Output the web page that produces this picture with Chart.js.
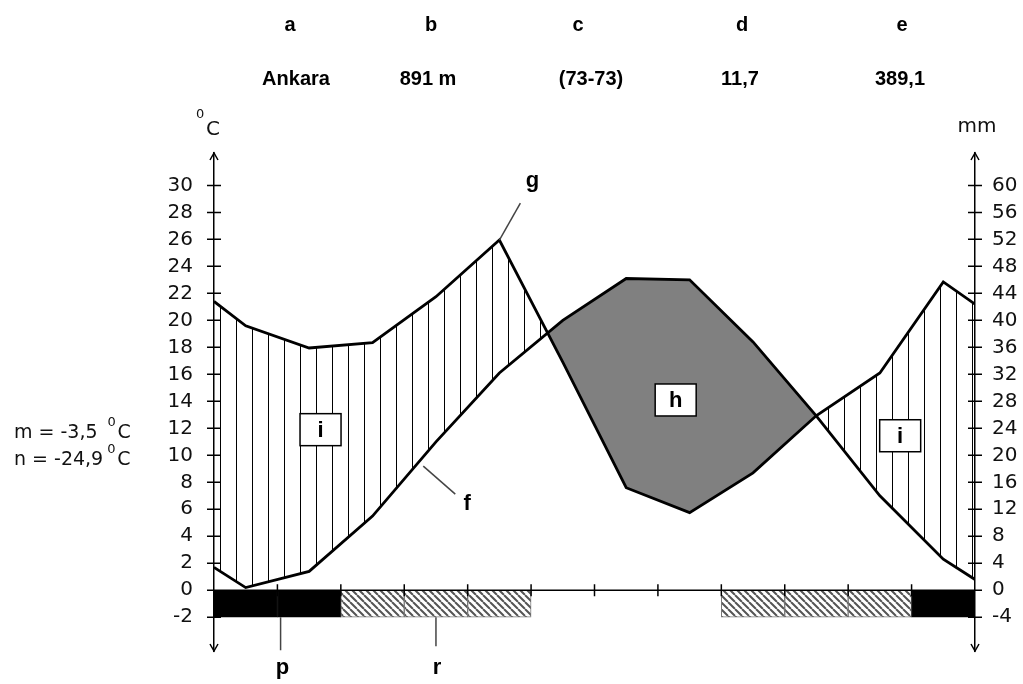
<!DOCTYPE html>
<html>
<head>
<meta charset="utf-8">
<title>Ankara climate diagram</title>
<script src="https://cdn.jsdelivr.net/npm/chart.js@4"></script>
<style>
  html, body { margin: 0; padding: 0; background: #fff; }
  canvas { display: block; }
</style>
</head>
<body>
<canvas id="climate" width="1023" height="684"></canvas>
<script>
const months = ['Jan', 'Feb', 'Mar', 'Apr', 'May', 'Jun', 'Jul', 'Aug', 'Sep', 'Oct', 'Nov', 'Dec'];
const temperature = [0.2, 1.4, 5.5, 11.0, 16.1, 20.0, 23.1, 23.0, 18.4, 12.9, 7.0, 2.3];
const precipitation = [39.2, 35.9, 36.7, 43.5, 51.9, 33.8, 15.2, 11.5, 17.4, 25.9, 32.2, 45.7];
// where the two curves meet the left and right axis
const tempEdges = [1.7, 0.8];
const precipEdges = [42.8, 42.4];
// 'abs' = black bar, 'prob' = hatched bar
const frost = ['abs', 'abs', 'prob', 'prob', 'prob', null, null, null, 'prob', 'prob', 'prob', 'abs'];
const tempTicks = [-2, 0, 2, 4, 6, 8, 10, 12, 14, 16, 18, 20, 22, 24, 26, 28, 30];
const precipTicks = [-4, 0, 4, 8, 12, 16, 20, 24, 28, 32, 36, 40, 44, 48, 52, 56, 60];
const header = ['a', 'b', 'c', 'd', 'e'];
const station = ['Ankara', '891 m', '(73-73)', '11,7', '389,1'];
const extremes = ['m = -3,5 ', 'n = -24,9'];

const canvas = document.getElementById('climate');
const ctx0 = canvas.getContext('2d');

function makeVertHatch() {
  const c = document.createElement('canvas');
  c.width = 16; c.height = 16;
  const g = c.getContext('2d');
  g.fillStyle = '#000';
  g.fillRect(12, 0, 1, 16);
  return ctx0.createPattern(c, 'repeat');
}

function makeDiagHatch() {
  const c = document.createElement('canvas');
  c.width = 7; c.height = 7;
  const g = c.getContext('2d');
  g.fillStyle = '#fff';
  g.fillRect(0, 0, 7, 7);
  g.strokeStyle = '#555';
  g.lineWidth = 2;
  g.beginPath();
  for (const k of [-7, 0, 7]) { g.moveTo(k, 0); g.lineTo(k + 7, 7); }
  g.stroke();
  return ctx0.createPattern(c, 'repeat');
}

const vertHatch = makeVertHatch();
const diagHatch = makeDiagHatch();

const tempPoints = [{x: 0, y: tempEdges[0]}]
  .concat(temperature.map((v, i) => ({x: i + 0.5, y: v})))
  .concat([{x: 12, y: tempEdges[1]}]);
const precipPoints = [{x: 0, y: precipEdges[0]}]
  .concat(precipitation.map((v, i) => ({x: i + 0.5, y: v})))
  .concat([{x: 12, y: precipEdges[1]}]);
const frostBars = frost
  .map((f, i) => f ? {x: i + 0.5, y: [-2, 0], kind: f} : null)
  .filter(b => b);

const labelFont = {family: 'DejaVu Sans', size: 20};

function drawBox(ctx, cx, cy, txt) {
  const w = 41, h = 32;
  ctx.fillStyle = '#fff';
  ctx.fillRect(cx - w / 2, cy - h / 2, w, h);
  ctx.strokeStyle = '#000';
  ctx.lineWidth = 1.5;
  ctx.strokeRect(cx - w / 2, cy - h / 2, w, h);
  ctx.fillStyle = '#000';
  ctx.font = 'bold 22px "Liberation Sans", Arial, sans-serif';
  ctx.textAlign = 'center';
  ctx.textBaseline = 'middle';
  ctx.fillText(txt, cx, cy + 1);
}

function seg(ctx, x1, y1, x2, y2) {
  ctx.beginPath();
  ctx.moveTo(x1, y1);
  ctx.lineTo(x2, y2);
  ctx.stroke();
}

const decor = {
  id: 'decor',
  afterDatasetsDraw(chart) {
    const {ctx, chartArea, scales: {x, y, y1}} = chart;
    const left = x.getPixelForValue(0), right = x.getPixelForValue(12);
    const zero = y.getPixelForValue(0);
    const top = chartArea.top, bottom = chartArea.bottom;
    ctx.save();
    ctx.strokeStyle = '#000';
    ctx.lineWidth = 1.5;
    ctx.beginPath();
    ctx.moveTo(left, zero); ctx.lineTo(right, zero);
    for (let m = 1; m < months.length; m++) {
      const px = x.getPixelForValue(m);
      ctx.moveTo(px, zero - 6); ctx.lineTo(px, zero + 6);
    }
    for (const t of y.ticks) {
      const py = y.getPixelForValue(t.value);
      ctx.moveTo(left - 7, py); ctx.lineTo(left + 7, py);
    }
    for (const t of y1.ticks) {
      const py = y1.getPixelForValue(t.value);
      ctx.moveTo(right - 7, py); ctx.lineTo(right + 7, py);
    }
    for (const ax of [left, right]) {
      ctx.moveTo(ax - 4, top + 7); ctx.lineTo(ax, top); ctx.lineTo(ax + 4, top + 7);
      ctx.moveTo(ax - 4, bottom - 7); ctx.lineTo(ax, bottom); ctx.lineTo(ax + 4, bottom - 7);
    }
    ctx.stroke();

    // leader lines
    ctx.strokeStyle = '#444';
    ctx.lineWidth = 1.5;
    const gx = x.getPixelForValue(4.5), gy = y1.getPixelForValue(precipitation[4]);
    seg(ctx, gx, gy, gx + 21, gy - 37);
    const fx = x.getPixelForValue(3.3), fy = y.getPixelForValue(9.2);
    seg(ctx, fx, fy, fx + 32, fy + 28);
    const base = y.getPixelForValue(-2);
    const px = x.getPixelForValue(1.05), rx = x.getPixelForValue(3.5);
    seg(ctx, px, base, px, base + 33);
    seg(ctx, rx, base, rx, base + 29);

    ctx.fillStyle = '#000';
    ctx.font = 'bold 22px "Liberation Sans", Arial, sans-serif';
    ctx.textAlign = 'center';
    ctx.textBaseline = 'alphabetic';
    ctx.fillText('g', gx + 33, gy - 53);
    ctx.fillText('f', fx + 44, fy + 44);
    ctx.fillText('p', px + 2, base + 57);
    ctx.fillText('r', rx + 1, base + 57);

    drawBox(ctx, x.getPixelForValue(1.68), y.getPixelForValue(11.9), 'i');
    drawBox(ctx, x.getPixelForValue(7.28), y.getPixelForValue(14.1), 'h');
    drawBox(ctx, x.getPixelForValue(10.82), y.getPixelForValue(11.45), 'i');

    // header rows
    const headerX = [290, 431, 578, 742, 902];
    const stationX = [296, 428, 591, 740, 900];
    ctx.font = 'bold 20px "Liberation Sans", Arial, sans-serif';
    ctx.textBaseline = 'alphabetic';
    header.forEach((t, i) => ctx.fillText(t, headerX[i], 31));
    station.forEach((t, i) => ctx.fillText(t, stationX[i], 85));

    // axis units
    ctx.font = '20px "DejaVu Sans", sans-serif';
    ctx.fillStyle = '#111';
    ctx.fillText('mm', right + 2, 132);
    ctx.textAlign = 'left';
    ctx.fillText('C', left - 8, 135);
    ctx.font = '13px "DejaVu Sans", sans-serif';
    ctx.fillText('0', left - 18, 118);

    // extreme temperatures
    const rows = [438, 465];
    extremes.forEach((t, i) => {
      ctx.font = '19px "DejaVu Sans", sans-serif';
      ctx.fillText(t, 14, rows[i]);
      const w = ctx.measureText(t).width;
      ctx.font = '13px "DejaVu Sans", sans-serif';
      ctx.fillText('0', 14 + w + 4, rows[i] - 12);
      ctx.font = '19px "DejaVu Sans", sans-serif';
      ctx.fillText('C', 14 + w + 14, rows[i]);
    });
    ctx.restore();
  }
};

new Chart(canvas, {
  data: {
    datasets: [
      {
        type: 'line',
        label: 'Temperature',
        data: tempPoints,
        yAxisID: 'y',
        borderColor: '#000',
        borderWidth: 2.8,
        pointRadius: 0,
        tension: 0,
        fill: false,
        order: 1
      },
      {
        type: 'line',
        label: 'Precipitation',
        data: precipPoints,
        yAxisID: 'y1',
        borderColor: '#000',
        borderWidth: 2.8,
        pointRadius: 0,
        tension: 0,
        fill: {target: 0, above: vertHatch, below: '#808080'},
        order: 2
      },
      {
        type: 'bar',
        label: 'Frost',
        data: frostBars,
        yAxisID: 'y',
        backgroundColor: c => (c.raw && c.raw.kind === 'abs') ? '#000' : diagHatch,
        borderColor: c => (c.raw && c.raw.kind === 'abs') ? '#000' : '#777',
        borderWidth: 1,
        borderSkipped: false,
        barPercentage: 1,
        categoryPercentage: 1,
        order: 3
      }
    ]
  },
  options: {
    responsive: false,
    devicePixelRatio: 1,
    animation: false,
    layout: {padding: {left: 0, right: 0, top: 153, bottom: 32}},
    plugins: {legend: {display: false}, tooltip: {enabled: false}},
    scales: {
      x: {
        type: 'linear',
        min: 0,
        max: 12,
        offset: false,
        display: false,
        grid: {offset: false},
        ticks: {stepSize: 1}
      },
      y: {
        position: 'left',
        min: -4.5,
        max: 32.4,
        afterBuildTicks: s => { s.ticks = tempTicks.map(v => ({value: v})); },
        afterFit: s => { s.width = 214; },
        grid: {display: false, drawTicks: false},
        border: {display: true, color: '#000', width: 1.5},
        ticks: {autoSkip: false, padding: 21, color: '#111', font: labelFont}
      },
      y1: {
        position: 'right',
        min: -9,
        max: 64.8,
        afterBuildTicks: s => { s.ticks = precipTicks.map(v => ({value: v})); },
        afterFit: s => { s.width = 48; },
        grid: {display: false, drawTicks: false},
        border: {display: true, color: '#000', width: 1.5},
        ticks: {autoSkip: false, padding: 17, color: '#111', font: labelFont}
      }
    }
  },
  plugins: [decor]
});
</script>
</body>
</html>
